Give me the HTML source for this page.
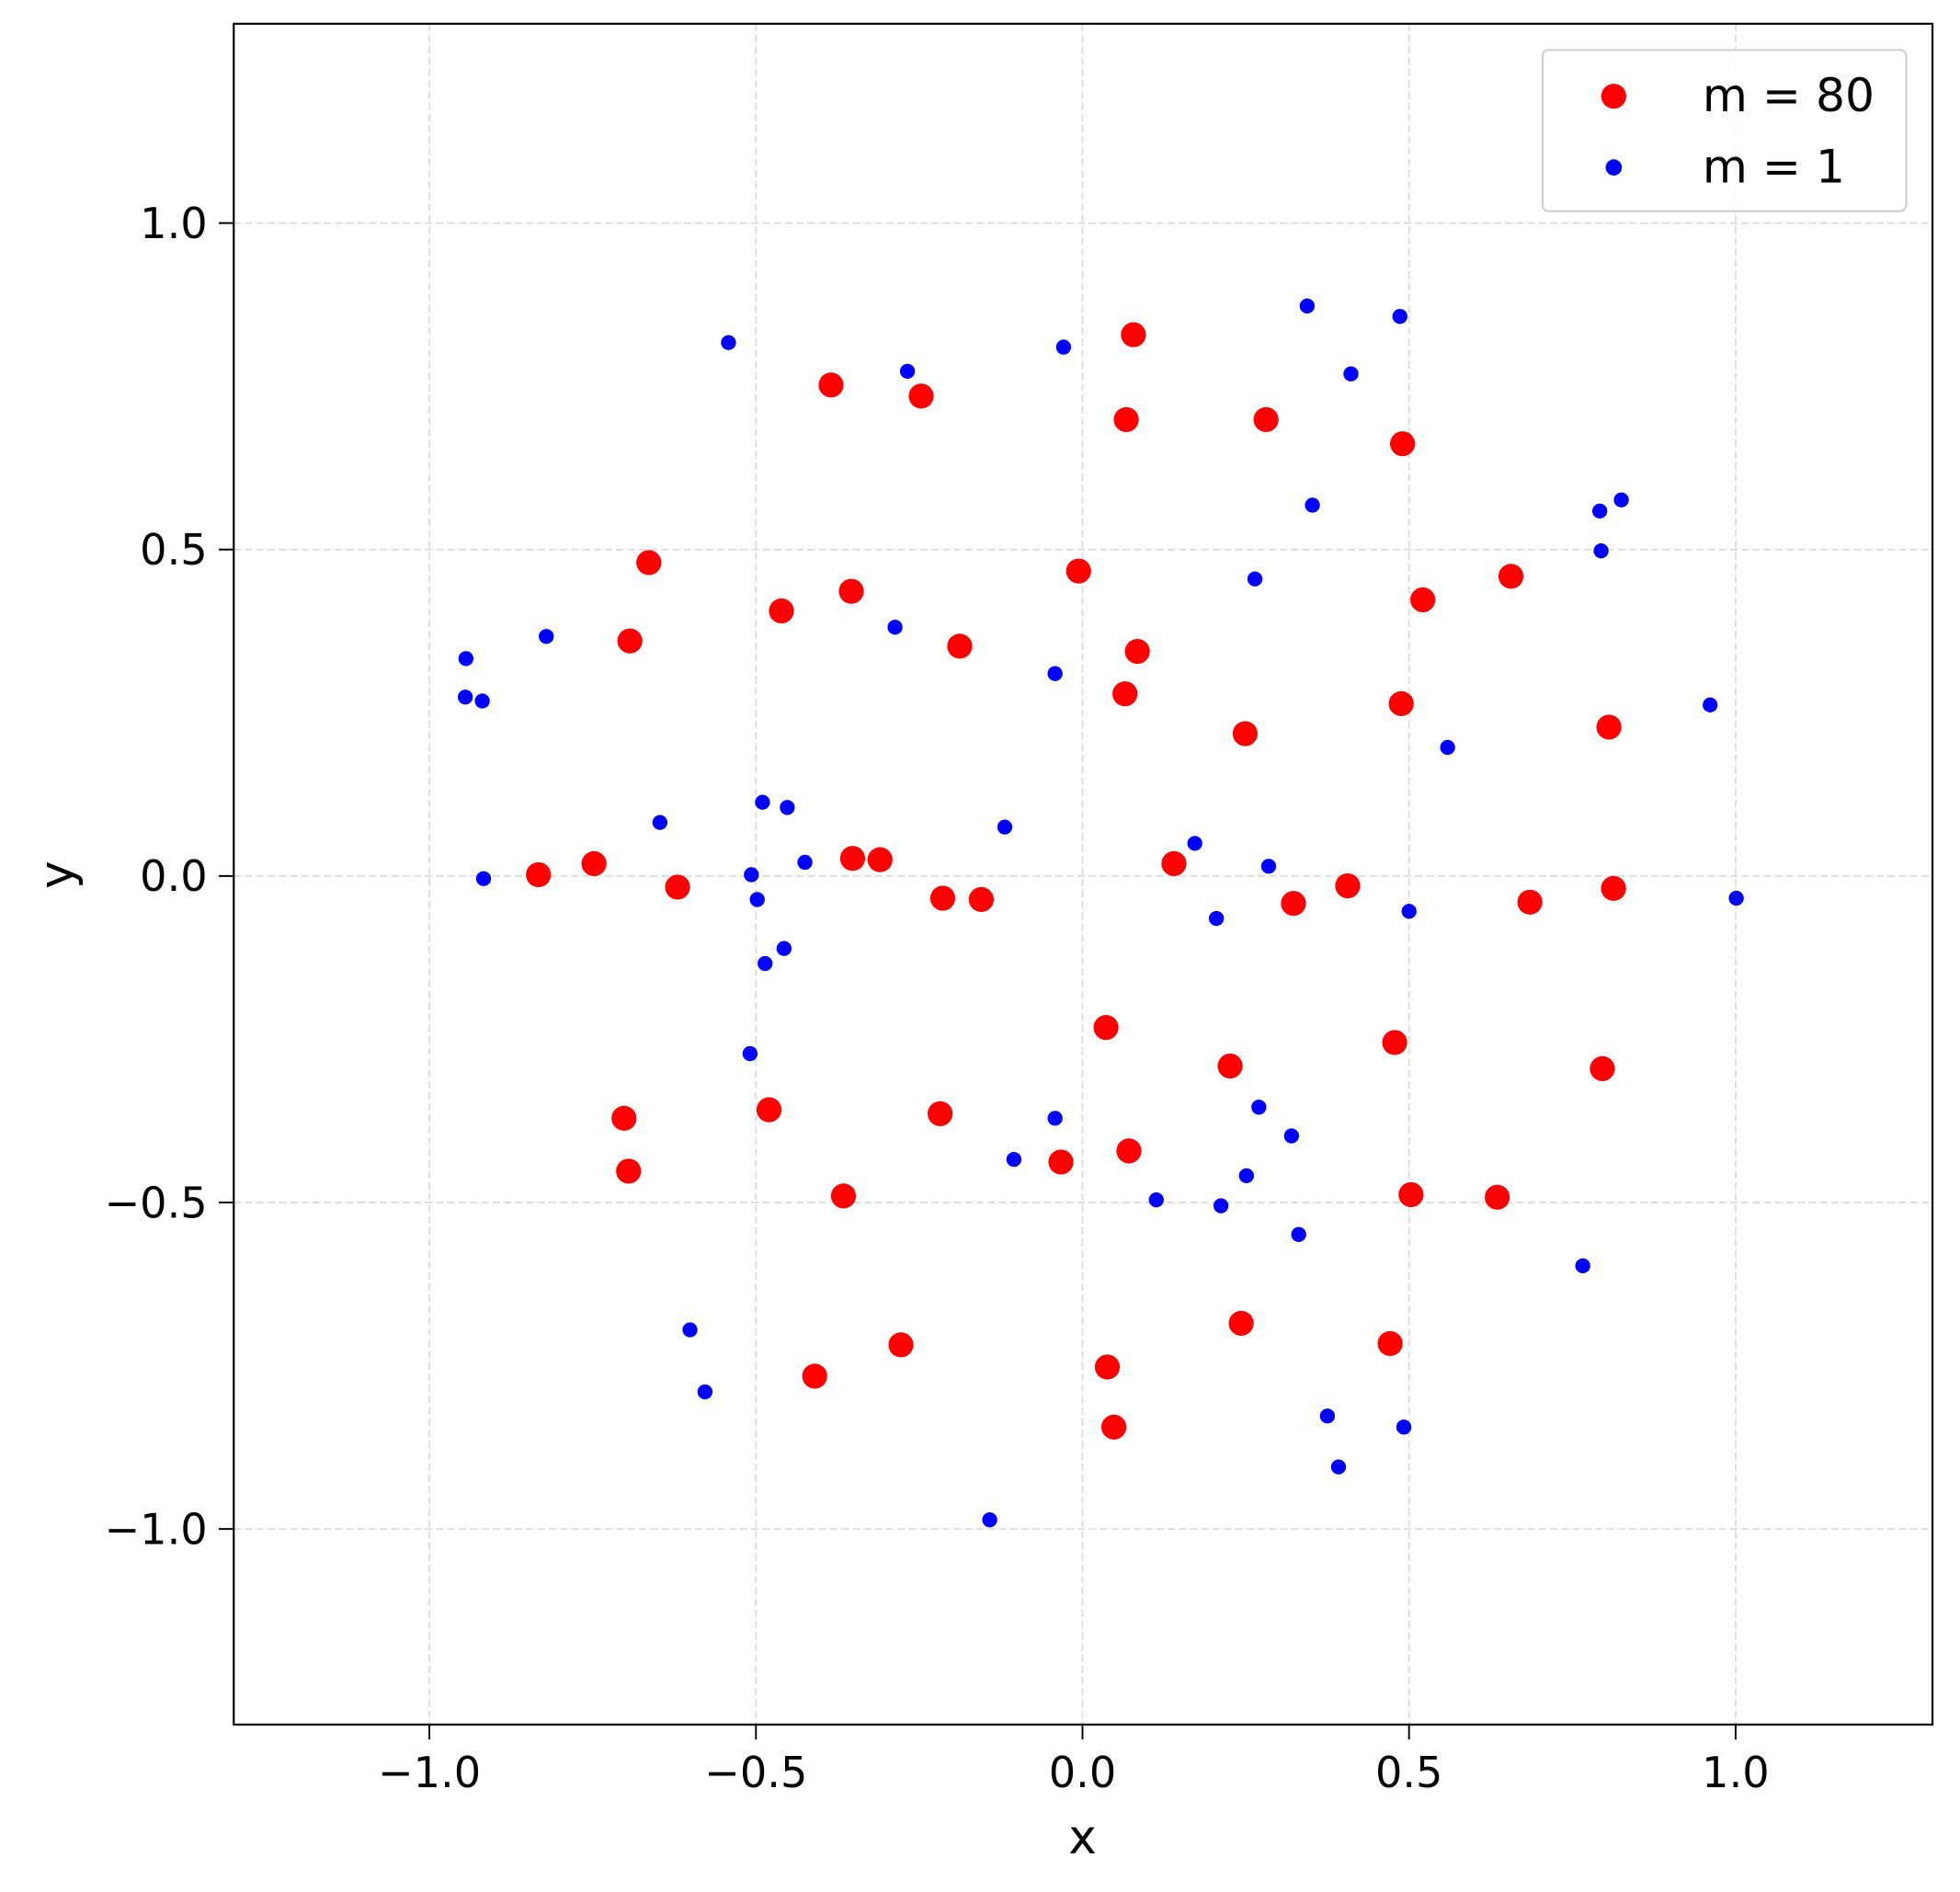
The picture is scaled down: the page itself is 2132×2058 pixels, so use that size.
<!DOCTYPE html>
<html><head><meta charset="utf-8"><style>
html,body{margin:0;padding:0;background:#fff;}
svg{display:block;font-family:"DejaVu Sans","Liberation Sans",sans-serif;}
</style></head><body>
<svg id="chart" width="2132" height="2058" viewBox="0 0 1568 1514" preserveAspectRatio="none" xmlns="http://www.w3.org/2000/svg">
<rect x="0" y="0" width="1568" height="1514" fill="#fff"/>
<g id="grid"></g>
<g id="pts"></g>
<rect x="187" y="19" width="1359" height="1361" fill="none" stroke="#000" stroke-width="1.6"/>
<g id="ticks"></g>
<text x="866" y="1483" font-size="38" text-anchor="middle">x</text>
<text x="58" y="700" font-size="38" text-anchor="middle" transform="rotate(-90 58 700)">y</text>
<g>
<rect x="1234" y="40" width="291" height="129" rx="5" fill="#fff" fill-opacity="0.8" stroke="#ccc" stroke-width="1.5"/>
<circle cx="1291" cy="77" r="10" fill="#f00"/>
<text x="1362" y="89" font-size="37">m = 80</text>
<circle cx="1291" cy="134" r="6.5" fill="#00f"/>
<text x="1362" y="146" font-size="37">m = 1</text>
</g>
</svg>
<script>
const xTicks=[-1.0,-0.5,0.0,0.5,1.0];
const yTicks=[-1.0,-0.5,0.0,0.5,1.0];
const tickLabels=["\u22121.0","\u22120.5","0.0","0.5","1.0"];
const redX=[0.078,-0.385,-0.247,0.067,0.281,0.490,-0.664,-0.006,0.656,-0.354,-0.461,0.521,-0.693,-0.188,0.084,0.065,0.488,0.249,0.806,-0.833,-0.748,-0.620,-0.352,-0.310,-0.214,-0.155,0.140,0.323,0.406,0.685,0.813,0.036,0.478,0.226,0.796,-0.702,-0.480,-0.218,0.071,-0.033,-0.695,-0.366,0.503,0.635,0.243,-0.278,0.471,-0.410,0.038,0.048];
const redY=[0.829,0.752,0.735,0.699,0.699,0.662,0.480,0.467,0.459,0.436,0.406,0.423,0.360,0.352,0.344,0.279,0.264,0.218,0.228,0.002,0.019,-0.017,0.027,0.025,-0.034,-0.036,0.019,-0.042,-0.015,-0.040,-0.019,-0.232,-0.255,-0.291,-0.295,-0.371,-0.358,-0.364,-0.421,-0.438,-0.452,-0.490,-0.488,-0.492,-0.685,-0.718,-0.716,-0.766,-0.752,-0.844];
const blueX=[-0.542,0.344,0.486,-0.029,-0.268,0.411,0.352,0.825,0.792,0.794,0.264,-0.821,-0.287,-0.944,-0.945,-0.919,-0.042,0.961,0.559,-0.647,-0.490,-0.452,-0.119,0.172,-0.425,-0.507,0.285,-0.917,-0.498,1.001,0.500,0.205,-0.457,-0.486,-0.509,0.270,-0.042,0.320,-0.105,0.251,0.113,0.212,0.331,0.766,-0.601,-0.578,0.375,0.492,0.392,-0.142];
const blueY=[0.817,0.873,0.857,0.810,0.773,0.769,0.568,0.576,0.559,0.498,0.455,0.367,0.381,0.333,0.274,0.268,0.310,0.262,0.197,0.082,0.113,0.105,0.075,0.050,0.021,0.002,0.015,-0.004,-0.036,-0.034,-0.054,-0.065,-0.111,-0.134,-0.272,-0.354,-0.371,-0.398,-0.434,-0.459,-0.496,-0.505,-0.549,-0.597,-0.695,-0.790,-0.827,-0.844,-0.905,-0.986];
const NS="http://www.w3.org/2000/svg";
function sx(v){return 866+522.5*v;}
function sy(v){return 701-522.5*v;}
function mk(tag,attrs,parent){const e=document.createElementNS(NS,tag);for(const k in attrs)e.setAttribute(k,attrs[k]);parent.appendChild(e);return e;}
const grid=document.getElementById('grid'),ticks=document.getElementById('ticks'),pts=document.getElementById('pts');
xTicks.forEach((t,i)=>{
  const g=mk('line',{x1:sx(t),x2:sx(t),y1:19,y2:1380,stroke:'#d9d9d9','stroke-width':1.2,'stroke-dasharray':'6,3'},grid);
  
  
  const tk=mk('line',{x1:sx(t),x2:sx(t),y1:1380,y2:1392,stroke:'#000','stroke-width':1.4},ticks);
  
  
  const tl=mk('text',{x:sx(t),y:1430,'font-size':34,'text-anchor':'middle'},ticks);
  tl.textContent=tickLabels[i];
  
  
});
yTicks.forEach((t,i)=>{
  const g=mk('line',{x1:187,x2:1546,y1:sy(t),y2:sy(t),stroke:'#d9d9d9','stroke-width':1.2,'stroke-dasharray':'6,3'},grid);
  
  
  const tk=mk('line',{x1:175,x2:187,y1:sy(t),y2:sy(t),stroke:'#000','stroke-width':1.4},ticks);
  
  
  const tl=mk('text',{x:166,y:sy(t)+12,'font-size':34,'text-anchor':'end'},ticks);
  tl.textContent=tickLabels[i];
  
  
});
redX.forEach((v,i)=>{
  const c=mk('circle',{cx:sx(v),cy:sy(redY[i]),r:10,fill:'#f00'},pts);
  
  
});
blueX.forEach((v,i)=>{
  const c=mk('circle',{cx:sx(v),cy:sy(blueY[i]),r:6,fill:'#00f'},pts);
  
  
});
</script>
</body></html>
